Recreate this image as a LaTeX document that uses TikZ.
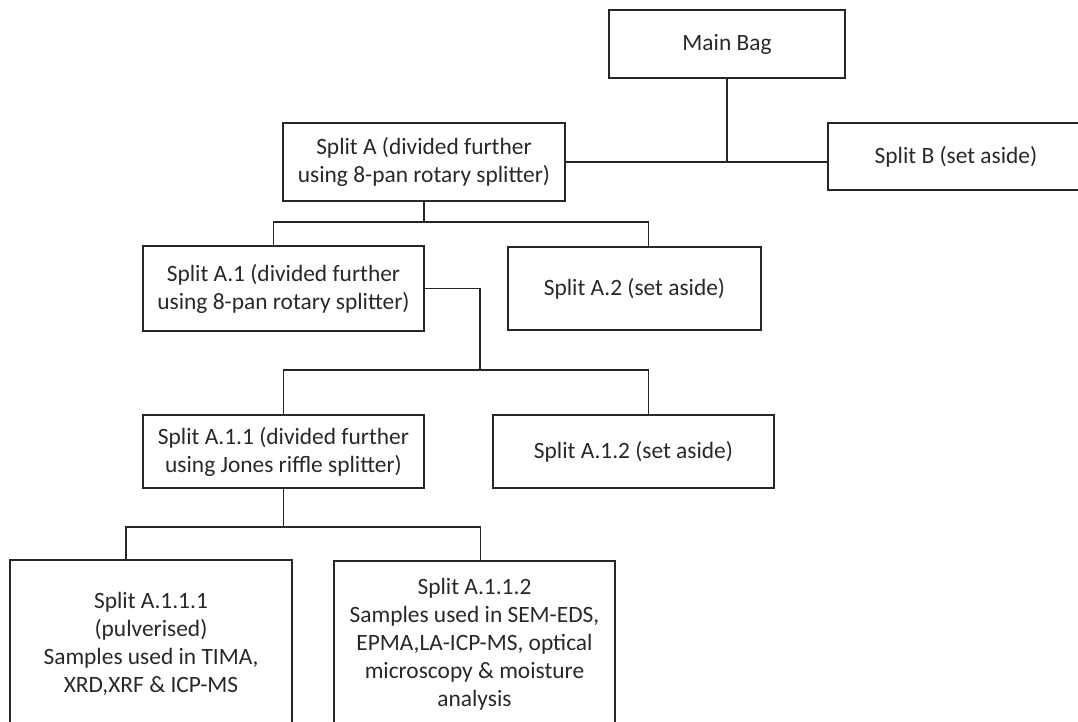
\documentclass[tikz,border=0pt]{standalone}
\usepackage{fontspec}
\setmainfont{Carlito}
\usepackage{tikz}
\usetikzlibrary{positioning,calc}
\definecolor{lineclr}{RGB}{38,38,38}
\definecolor{txtclr}{RGB}{40,40,40}

\begin{document}
\begin{tikzpicture}[x=0.5pt, y=-0.5pt,
  every node/.style={font=\fontsize{11.7}{14}\selectfont, text=txtclr},
  bx/.style={draw=lineclr, line width=0.9pt, align=center, inner sep=0pt},
  link/.style={draw=lineclr, line width=0.9pt}]
\useasboundingbox (0,0) rectangle (1078,722);
% Top level
\node[bx, minimum width=118pt, minimum height=34pt] (main) at (727,44) {Main Bag};
\node[bx, minimum width=141pt, minimum height=39pt] (splitA) at (424,162) {Split A (divided further\\using 8-pan rotary splitter)};
\node[bx, minimum width=128pt, minimum height=33.5pt] (splitB) at (956,156.5) {Split B (set aside)};
% Second level
\node[bx, minimum width=140.5pt, minimum height=42.5pt] (a1) at (283.5,288.5) {Split A.1 (divided further\\using 8-pan rotary splitter)};
\node[bx, minimum width=126.5pt, minimum height=41.5pt] (a2) at (634.5,288.5) {Split A.2 (set aside)};
% Third level
\node[bx, minimum width=140.5pt, minimum height=36.5pt] (a11) at (283.5,451.5) {Split A.1.1 (divided further\\using Jones riffle splitter)};
\node[bx, minimum width=140.5pt, minimum height=36.5pt] (a12) at (633.5,451.5) {Split A.1.2 (set aside)};
% Fourth level
\node[bx, minimum width=141pt, minimum height=84pt] (a111) at (151,644) {Split A.1.1.1\\(pulverised)\\Samples used in TIMA,\\XRD,XRF \& ICP-MS};
\node[bx, minimum width=140.5pt, minimum height=83.5pt] (a112) at (474.5,644.5) {Split A.1.1.2\\Samples used in SEM-EDS,\\EPMA,LA-ICP-MS, optical\\microscopy \& moisture\\analysis};
% Junctions
\coordinate (j1) at (424,222);
\coordinate (j2) at (480,370);
\coordinate (j3) at (283.5,527);
% Connectors
\draw[link] (main.south) -- (main.south |- splitA.east);
\draw[link] (splitA.east) -- (splitA.east -| splitB.west);
\draw[link] (splitA.south) -- (j1) -| ([xshift=-5pt]a1.north);
\draw[link] (j1) -| ([xshift=7pt]a2.north);
\draw[link] (a1.east) -| (j2);
\draw[link] (j2) -| (a11.north);
\draw[link] (j2) -| ([xshift=7.5pt]a12.north);
\draw[link] (a11.south) -- (j3) -| ([xshift=-12.5pt]a111.north);
\draw[link] (j3) -| ([xshift=3pt]a112.north);
\end{tikzpicture}
\end{document}
